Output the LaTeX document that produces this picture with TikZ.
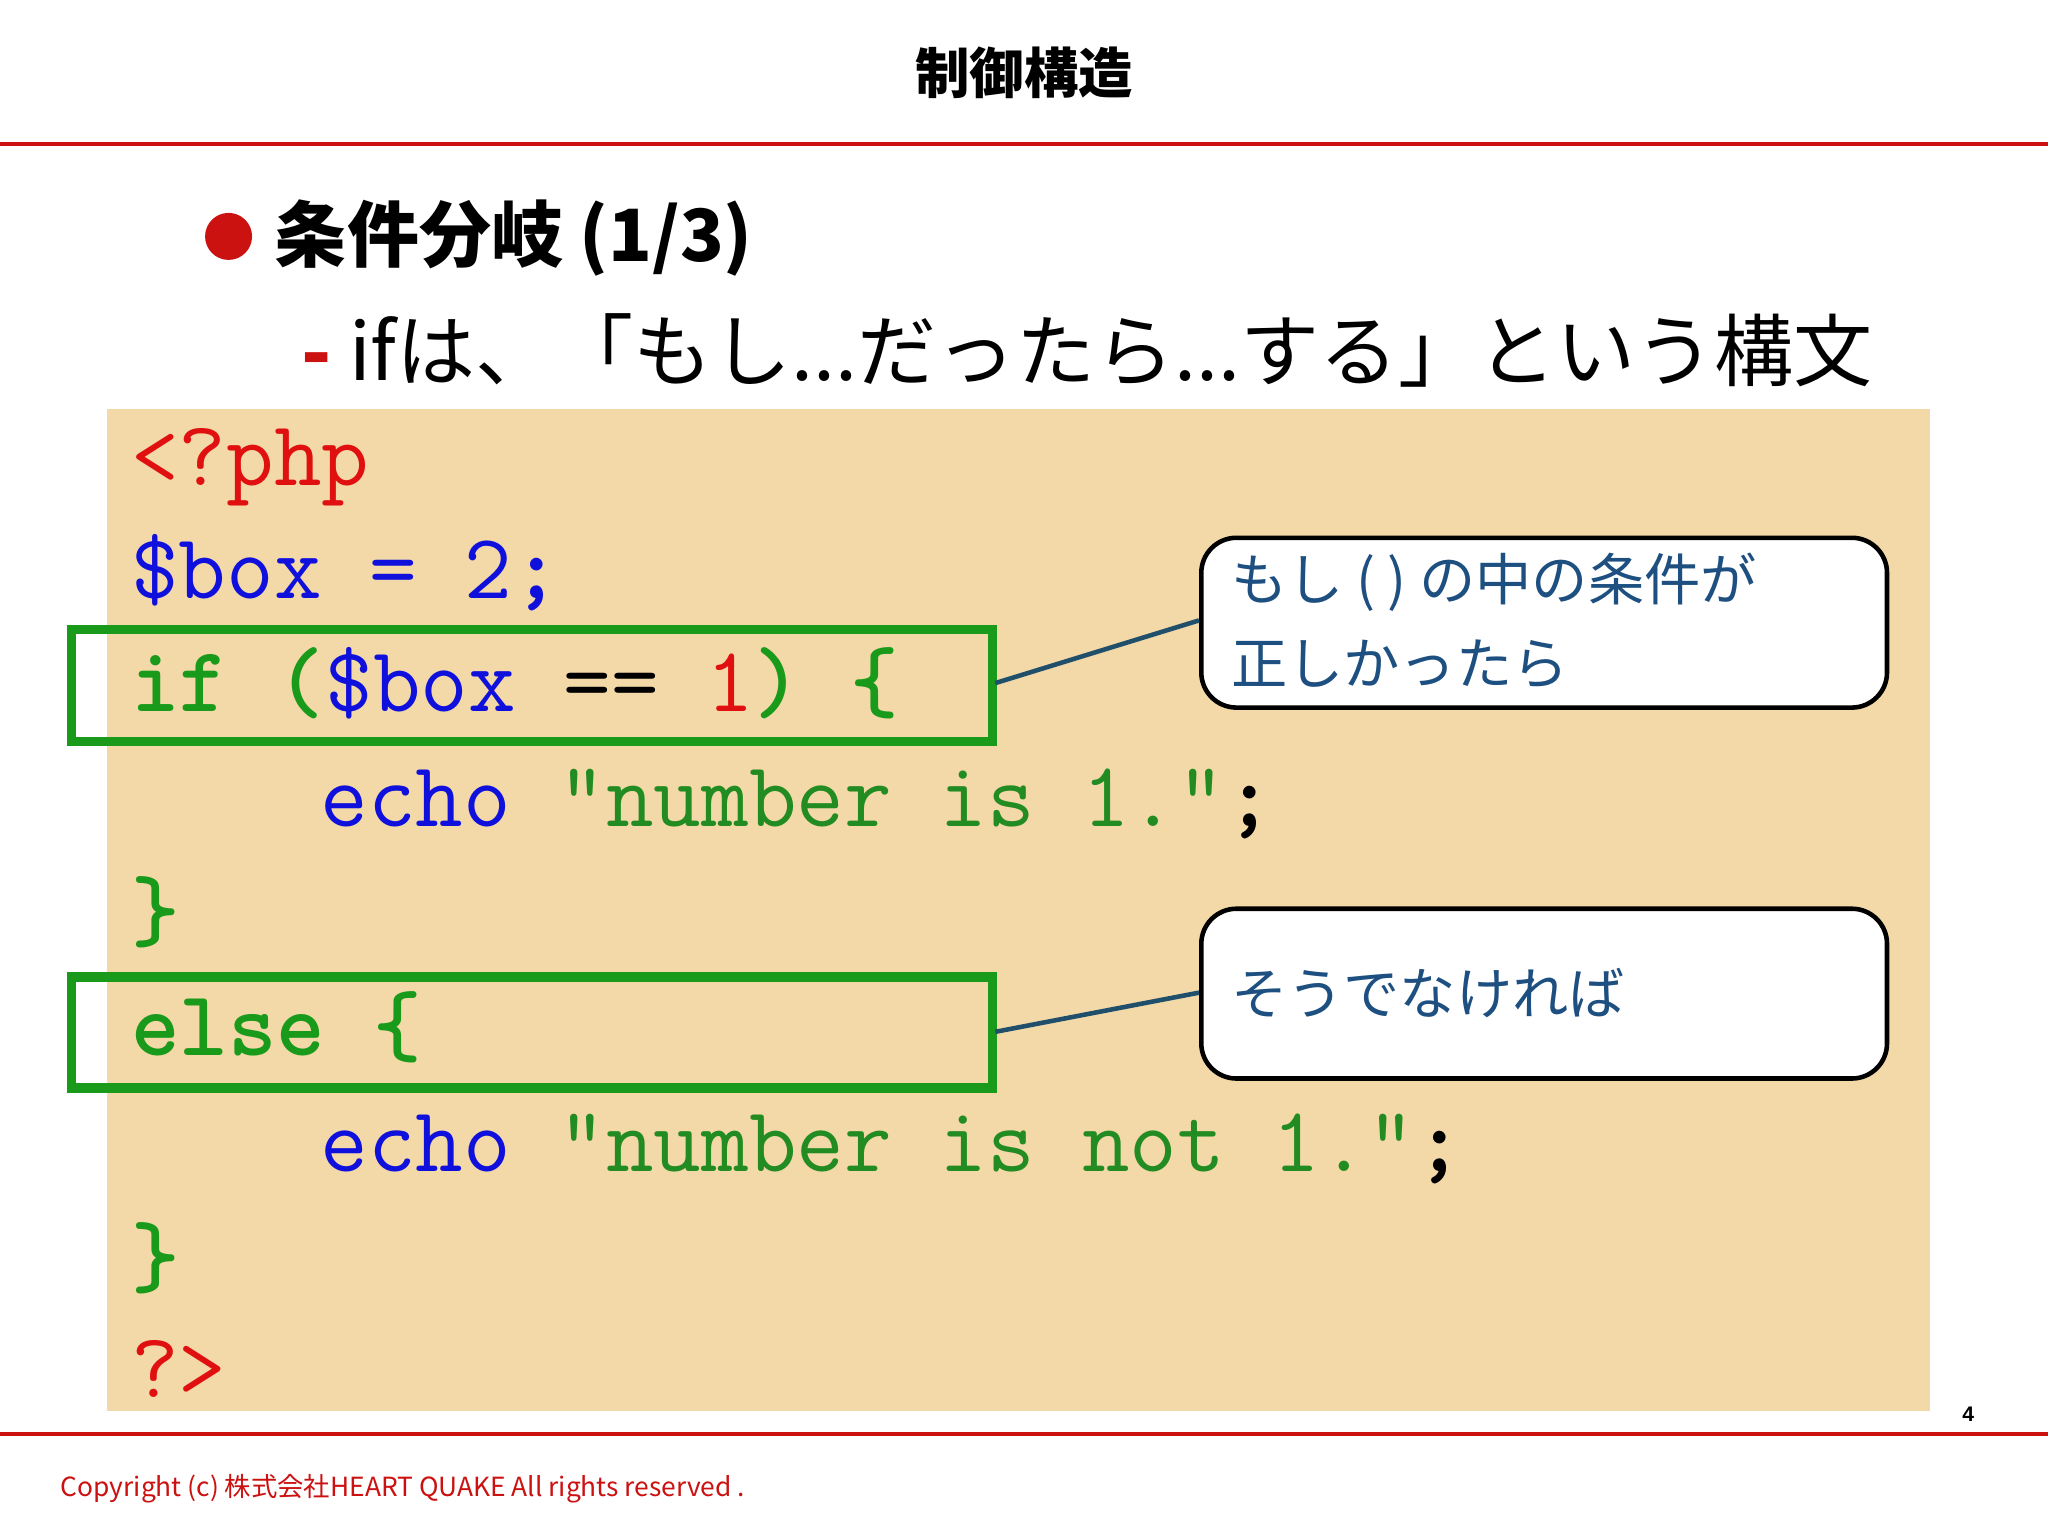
\documentclass[tikz,border=0pt]{standalone}
\usepackage{fontspec}
\setmainfont{Liberation Sans}
\newfontfamily\jp{Noto Sans CJK JP}
\definecolor{hred}{HTML}{CC1111}
\definecolor{codebg}{HTML}{F3D9A8}
\definecolor{cgreen}{HTML}{1A9A1A}
\definecolor{sgreen}{HTML}{228B22}
\definecolor{cblue}{HTML}{1010DD}
\definecolor{cred}{HTML}{E01010}
\definecolor{teal}{HTML}{1F4F6A}
\definecolor{ctext}{HTML}{1D4F80}
\begin{document}
\begin{tikzpicture}[x=0.013061cm,y=-0.013061cm,
 code/.style={anchor=base west,inner sep=0,font=\fontsize{26.3}{28}\ttfamily},
 gbox/.style={draw=cgreen,line width=2.6pt},
 callout/.style={draw=black,line width=1.3pt,rounded corners=10pt,fill=white},
 ctxt/.style={anchor=west,inner sep=0,align=left,text=ctext,font=\jp\fontsize{16}{24}\selectfont}]
\useasboundingbox (0,0) rectangle (1568,1176);
\fill[white] (0,0) rectangle (1568,1176);
\node[font=\jp\bfseries\fontsize{15.5}{18}\selectfont] (title) at (784,56) {制御構造};
\draw[hred,line width=1.2pt] (0,110) -- (1568,110);
\draw[hred,line width=1.2pt] (0,1098) -- (1568,1098);
\fill[hred] (175,181) circle (18);
\node[anchor=west,inner sep=0,font=\jp\bfseries\fontsize{20.5}{24}\selectfont] (h) at (210,182) {条件分岐 \textbf{(1/3)}};
\node[anchor=west,inner sep=0,font=\jp\fontsize{22.5}{26}\selectfont] (s) at (230,268) {{\color{hred}\bfseries -} ifは、「もし...だったら...する」という構文};
\fill[codebg] (82,313) rectangle (1478,1080);
\node[code] (l1) at (100,372) {\color{cred}<?php};
\node[code] (l2) at (100,458) {\color{cblue}\$box = 2\textbf{;}};
\node[code] (l3) at (100,545) {\color{cgreen}\textbf{if (}\color{cblue}\$box \color{black}== \color{cred}1\color{cgreen}\textbf{) \{}};
\node[code] (l4) at (245,633) {\color{cblue}echo \color{sgreen}\textquotedblright number is 1.\textquotedblright\color{black}\textbf{;}};
\node[code] (l5) at (100,720) {\color{cgreen}\textbf{\}}};
\node[code] (l6) at (100,808) {\color{cgreen}\textbf{else \{}};
\node[code] (l7) at (245,897) {\color{cblue}echo \color{sgreen}\textquotedblright number is not 1.\textquotedblright\color{black}\textbf{;}};
\node[code] (l8) at (100,985) {\color{cgreen}\textbf{\}}};
\node[code] (l9) at (100,1070) {\color{cred}?>};
\draw[gbox] (55,482) rectangle (760,568);
\draw[gbox] (55,748) rectangle (760,833);
\coordinate (g1) at (762,523);
\coordinate (g2) at (762,790);
\node[callout,minimum width=525*0.013061cm,minimum height=130*0.013061cm,anchor=north west] (c1) at (918,410) {};
\node[callout,minimum width=525*0.013061cm,minimum height=130*0.013061cm,anchor=north west] (c2) at (918,694) {};
\node[ctxt] (t1) at (942,475) {もし ( ) の中の条件が\\正しかったら};
\node[ctxt] (t2) at (942,760) {そうでなければ};
\draw[teal,line width=1.3pt] (g1) -- (c1.west |- 0,475);
\draw[teal,line width=1.3pt] (g2) -- (c2.west |- 0,760);
\node[font=\bfseries\fontsize{6}{7}\selectfont] (pg) at (1507,1083) {4};
\node[anchor=west,inner sep=0,text=hred,font=\jp\fontsize{7.5}{9}\selectfont] (cp) at (46,1140) {Copyright (c) 株式会社HEART QUAKE All rights reserved .};
\end{tikzpicture}
\end{document}
